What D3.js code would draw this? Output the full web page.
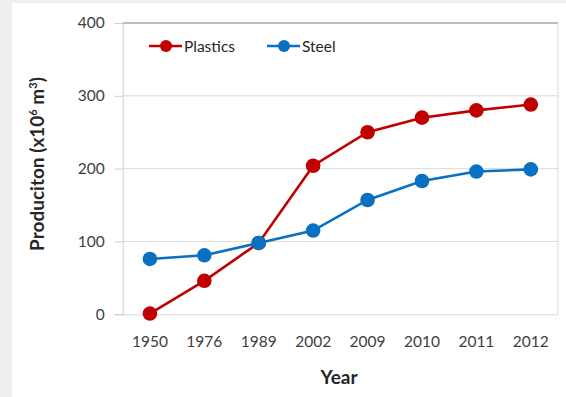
<!DOCTYPE html>
<html>
<head>
<meta charset="utf-8">
<script src="https://cdn.jsdelivr.net/npm/d3@7"></script>
<style>
  html, body { margin: 0; padding: 0; background: #efefef; }
  svg { display: block; }
</style>
</head>
<body>
<svg id="chart" width="566" height="397"></svg>
<script>
// Production data
const years = ["1950", "1976", "1989", "2002", "2009", "2010", "2011", "2012"];
const plastics = [1, 46, 98, 204, 250, 270, 280, 288];
const steel = [76, 81, 98, 115, 157, 183, 196, 199];
const yTicks = [0, 100, 200, 300, 400];

const series = [
  { name: "Plastics", values: plastics, color: "#c00000" },
  { name: "Steel", values: steel, color: "#0a70c2" }
];

const svg = d3.select("#chart");
const font = "Lato, 'Open Sans', sans-serif";

// white chart panel
svg.append("rect").attr("x", 12).attr("y", 3).attr("width", 554).attr("height", 394).attr("fill", "#ffffff");

const margin = { left: 122.7, right: 8, top: 23, bottom: 82.7 };
const W = 566, H = 397;

const x = d3.scaleBand().domain(years).range([margin.left, W - margin.right]);
const y = d3.scaleLinear().domain([0, 400]).range([H - margin.bottom, margin.top]);
const cx = v => x(v) + x.bandwidth() / 2;

// gridlines (top one doubles as the plot border)
svg.append("g").selectAll("line").data(yTicks.filter(d => d > 0)).join("line")
  .attr("x1", margin.left).attr("x2", W - margin.right)
  .attr("y1", d => y(d)).attr("y2", d => y(d))
  .attr("stroke", d => d === 400 ? "#a6a6a6" : "#d9d9d9").attr("stroke-width", d => d === 400 ? 1.5 : 1);

// right border of plot
svg.append("line")
  .attr("x1", W - margin.right).attr("x2", W - margin.right)
  .attr("y1", y(400)).attr("y2", y(0))
  .attr("stroke", "#d9d9d9");

// y axis
const yAxis = svg.append("g").attr("transform", `translate(${margin.left},0)`)
  .call(d3.axisLeft(y).tickValues(yTicks).tickSize(8).tickPadding(10));
yAxis.select(".domain").attr("stroke", "#d0d0d0");
yAxis.selectAll(".tick line").attr("stroke", "#d0d0d0");
yAxis.selectAll("text").attr("font-family", font).attr("font-size", 15.5).attr("fill", "#404040");

// x axis
const xAxis = svg.append("g").attr("transform", `translate(0,${y(0)})`)
  .call(d3.axisBottom(x).tickSize(0).tickPadding(22));
xAxis.select(".domain").attr("stroke", "#d9d9d9");
xAxis.selectAll("text").attr("font-family", font).attr("font-size", 15.5).attr("fill", "#404040");

// axis titles
svg.append("text")
  .attr("x", 339).attr("y", 384)
  .attr("text-anchor", "middle")
  .attr("font-family", font).attr("font-size", 19).attr("font-weight", "bold").attr("fill", "#262626")
  .text("Year");

const yt = svg.append("text")
  .attr("transform", `translate(44,164) rotate(-90)`)
  .attr("text-anchor", "middle")
  .attr("font-family", font).attr("font-size", 19).attr("font-weight", "bold").attr("fill", "#262626");
yt.append("tspan").text("Produciton (x10");
yt.append("tspan").attr("font-size", 11).attr("dy", -7).text("6");
yt.append("tspan").attr("dy", 7).text(" m");
yt.append("tspan").attr("font-size", 11).attr("dy", -7).text("3");
yt.append("tspan").attr("dy", 7).text(")");

// series lines and markers
const line = d3.line().x((d, i) => cx(years[i])).y(d => y(d));
series.forEach(s => {
  svg.append("path").datum(s.values)
    .attr("d", line).attr("fill", "none")
    .attr("stroke", s.color).attr("stroke-width", 2.6);
  svg.append("g").selectAll("circle").data(s.values).join("circle")
    .attr("cx", (d, i) => cx(years[i]))
    .attr("cy", d => y(d))
    .attr("r", 7.3).attr("fill", s.color);
});

// legend
const legend = svg.append("g").attr("transform", "translate(149,46)");
const legendX = [0, 118];
series.forEach((s, i) => {
  const g = legend.append("g").attr("transform", `translate(${legendX[i]},0)`);
  g.append("line").attr("x1", 0).attr("x2", 33).attr("y1", 0).attr("y2", 0)
    .attr("stroke", s.color).attr("stroke-width", 2.6);
  g.append("circle").attr("cx", 17).attr("cy", 0).attr("r", 6).attr("fill", s.color);
  g.append("text").attr("x", 35).attr("y", 5.5)
    .attr("font-family", font).attr("font-size", 15.5).attr("fill", "#262626")
    .text(s.name);
});
</script>
</body>
</html>
